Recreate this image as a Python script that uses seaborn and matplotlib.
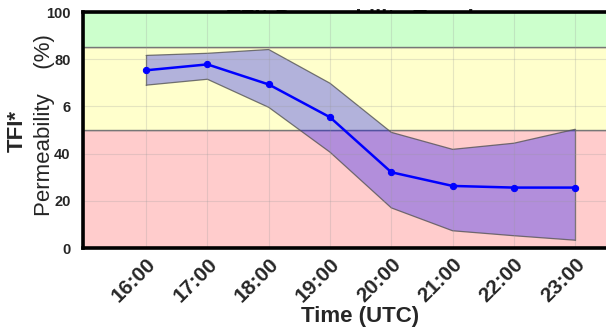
import numpy as np
import pandas as pd
import matplotlib
matplotlib.use("Agg")
import matplotlib.pyplot as plt
import seaborn as sns

# -------------------------------
# DATA
# -------------------------------
hours = ["16:00", "17:00", "18:00", "19:00", "20:00", "21:00", "22:00", "23:00"]
tfi_mean = [75.3, 77.8, 69.3, 55.4, 32.1, 26.3, 25.6, 25.6]
tfi_upper = [81.6, 82.5, 84.1, 69.8, 49.0, 41.8, 44.4, 50.3]
tfi_lower = [69.0, 71.5, 59.6, 40.6, 17.0, 7.3, 5.2, 3.3]

y_ticks = [0, 20, 40, 60, 80, 100]
y_tick_labels = ["0", "20", "40", "6", "80", "100"]

# risk zones (low, high, colour)
zones = [(0, 50, "#ffcccc"), (50, 85, "#ffffcc"), (85, 100, "#ccffcc")]

df = pd.DataFrame({"x": np.arange(len(hours)), "tfi": tfi_mean})

# -------------------------------
# PLOT
# -------------------------------
sns.set_style("white")
plt.rcParams["font.family"] = ["Liberation Sans", "DejaVu Sans"]

fig = plt.figure(figsize=(6.06, 3.29), dpi=100)
ax = fig.add_axes([83 / 606, 81 / 329, 553.5 / 606, 236 / 329])
ax.set_zorder(5)

# title sits behind the axes (only the tops of the letters show)
fig.text(350 / 606, 1 - 24.5 / 329, "TFI* Permeability Trend", ha="center",
         va="baseline", fontsize=16, fontweight="bold", zorder=-10)

for lo, hi, col in zones:
    ax.axhspan(lo, hi, facecolor=col, edgecolor="#777777", linewidth=1, zorder=0)

ax.fill_between(df["x"], tfi_lower, tfi_upper, color="blue", alpha=0.3,
                edgecolor="none", zorder=2)
ax.plot(df["x"], tfi_upper, color="#555555", linewidth=0.9, alpha=0.8, zorder=2)
ax.plot(df["x"], tfi_lower, color="#555555", linewidth=0.9, alpha=0.8, zorder=2)
ax.plot([df["x"].iloc[-1]] * 2, [tfi_lower[-1], tfi_upper[-1]], color="#555555",
        linewidth=0.9, alpha=0.8, zorder=2)
ax.plot([0, 0], [tfi_lower[0], tfi_upper[0]], color="#555555",
        linewidth=0.9, alpha=0.8, zorder=2)

sns.lineplot(data=df, x="x", y="tfi", ax=ax, color="blue", linewidth=1.8,
             marker="o", markersize=4.5, markeredgecolor="blue", zorder=3)

ax.set_xlim(-1.03, 8)
ax.set_ylim(0, 100)
ax.set_xticks(df["x"])
ax.set_xticklabels(hours, rotation=45, ha="right", rotation_mode="anchor",
                   fontsize=15, fontweight="bold")
ax.set_yticks(y_ticks)
ax.set_yticklabels(y_tick_labels, fontsize=10.5, fontweight="bold")
ax.tick_params(axis="both", length=0, pad=9)
ax.tick_params(axis="x", pad=5)

ax.grid(True, color="#999999", alpha=0.25, linewidth=0.8)
ax.set_axisbelow(False)
for sp in ax.spines.values():
    sp.set_linewidth(2.6)
    sp.set_color("black")
    sp.set_zorder(5)

ax.set_xlabel("Time (UTC)", fontsize=16, fontweight="bold", labelpad=0)
ax.set_ylabel("")
fig.text(17 / 606, 1 - 131 / 329, "TFI*", rotation=90, ha="center", va="center",
         fontsize=16, fontweight="bold")
fig.text(45 / 606, 1 - 125 / 329, "Permeability    (%)", rotation=90, ha="center",
         va="center", fontsize=16)

fig.savefig("out.png", dpi=100)
